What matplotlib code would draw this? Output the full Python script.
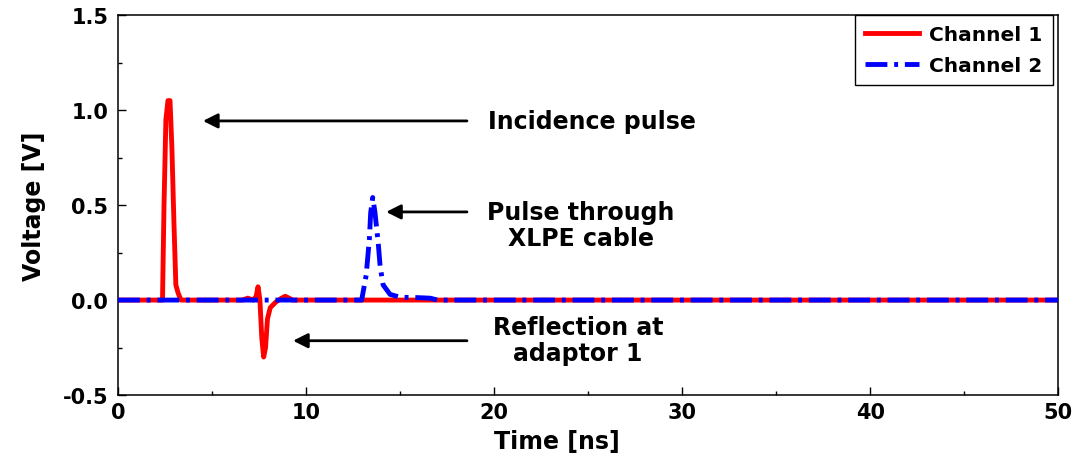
import matplotlib

matplotlib.use('Agg')
import matplotlib.pyplot as plt

plt.rcParams['font.family'] = ['DejaVu Sans']
plt.rcParams['font.weight'] = 'bold'

# Channel 1 (incidence pulse + reflection at adaptor 1)
ch1_t = [0.0, 2.37, 2.45, 2.55, 2.66, 2.77, 2.87, 2.98, 3.08, 3.19, 3.35,
         6.6, 6.9, 7.2, 7.35, 7.45, 7.55, 7.65, 7.75, 7.85, 7.95, 8.1, 8.4, 8.7, 8.9, 9.1, 9.3, 50.0]
ch1_v = [0.0, 0.0, 0.5, 0.95, 1.05, 1.05, 0.8, 0.4, 0.08, 0.04, 0.0,
         0.0, 0.01, 0.0, 0.02, 0.07, 0.0, -0.2, -0.30, -0.25, -0.1, -0.04, -0.01, 0.01, 0.02, 0.01, 0.0, 0.0]

# Channel 2 (pulse through XLPE cable)
ch2_t = [0.0, 12.96, 13.2, 13.37, 13.44, 13.55, 13.67, 13.85, 13.94, 14.1, 14.47, 15.0, 15.9, 16.6, 17.0, 50.0]
ch2_v = [0.0, 0.0, 0.13, 0.32, 0.46, 0.54, 0.46, 0.29, 0.18, 0.08, 0.03, 0.015, 0.013, 0.01, 0.0, 0.0]

x_ticks = [0, 10, 20, 30, 40, 50]
y_ticks = [-0.5, 0.0, 0.5, 1.0, 1.5]
y_tick_labels = ['-0.5', '0.0', '0.5', '1.0', '1.5']

fig = plt.figure(figsize=(10.82, 4.6), dpi=100)
ax = fig.add_axes((0.109, 0.139, 0.869, 0.826))

ax.plot(ch1_t, ch1_v, color='#ff0000', lw=3.5, label='Channel 1', zorder=2)
ax.plot(ch2_t, ch2_v, color='#0000ff', lw=3.5, label='Channel 2',
        linestyle=(0, (4.5, 1.4, 0.8, 1.4)), zorder=3)

ax.set_xlim(0, 50)
ax.set_ylim(-0.5, 1.5)
ax.set_xticks(x_ticks)
ax.set_xticklabels([str(t) for t in x_ticks])
ax.set_yticks(y_ticks)
ax.set_yticklabels(y_tick_labels)
ax.set_xticks([5, 15, 25, 35, 45], minor=True)
ax.set_yticks([-0.25, 0.25, 0.75, 1.25], minor=True)
ax.tick_params(which='major', direction='in', length=6, width=1, labelsize=15, pad=5)
ax.tick_params(which='minor', direction='in', length=3, width=1)
ax.tick_params(axis='y', pad=7)
for s in ax.spines.values():
    s.set_linewidth(1.1)

ax.set_xlabel('Time [ns]', fontsize=17, fontweight='bold', x=0.467, labelpad=5)
ax.set_ylabel('Voltage [V]', fontsize=17, fontweight='bold', labelpad=12)

arrow = dict(arrowstyle='-|>', color='black', lw=2, mutation_scale=22, shrinkA=0, shrinkB=0)
ax.annotate('', xy=(4.52, 0.943), xytext=(18.56, 0.943), arrowprops=arrow)
ax.annotate('', xy=(14.26, 0.464), xytext=(18.56, 0.464), arrowprops=arrow)
ax.annotate('', xy=(9.31, -0.214), xytext=(18.56, -0.214), arrowprops=arrow)

ax.text(19.68, 0.943, 'Incidence pulse', fontsize=17, fontweight='bold', ha='left', va='center')
ax.text(24.63, 0.396, 'Pulse through\nXLPE cable', fontsize=17, fontweight='bold',
        ha='center', va='center', multialignment='center', linespacing=1.1)
ax.text(24.47, -0.21, 'Reflection at\nadaptor 1', fontsize=17, fontweight='bold',
        ha='center', va='center', multialignment='center', linespacing=1.1)

leg = ax.legend(loc='upper right', bbox_to_anchor=(0.994, 1.0), borderaxespad=0,
                fontsize=14.5, fancybox=False, framealpha=1, edgecolor='black',
                handlelength=2.7, handletextpad=0.5, labelspacing=0.6, borderpad=0.5)
leg.get_frame().set_linewidth(1.0)

fig.savefig('out.png', dpi=100)
